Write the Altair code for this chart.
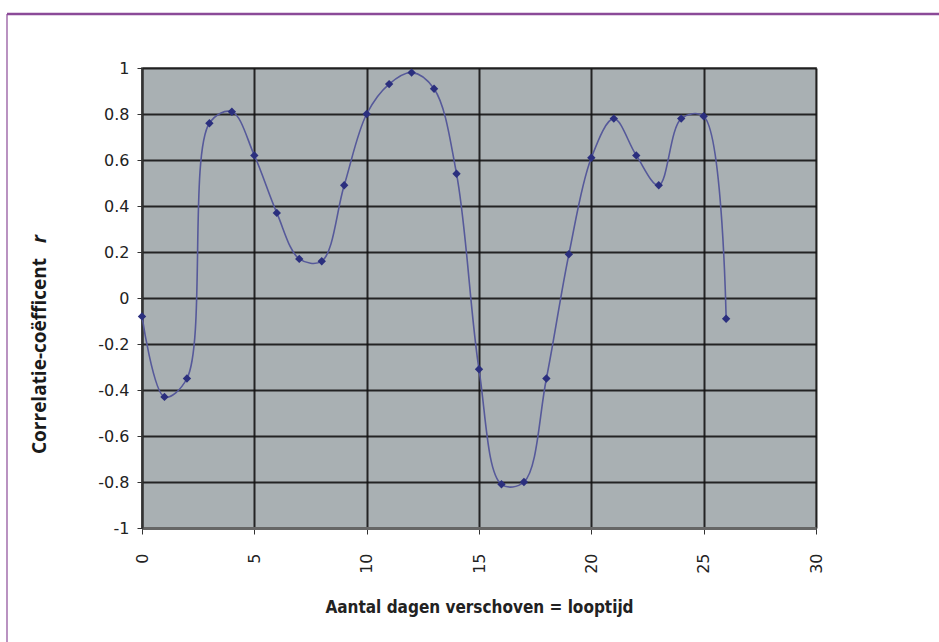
import altair as alt
import pandas as pd

# Days shifted (lag) and the correlation coefficient found at each lag
dagen = list(range(0, 27))
r_waarden = [-0.08, -0.43, -0.35, 0.76, 0.81, 0.62, 0.37, 0.17, 0.16, 0.49,
             0.80, 0.93, 0.98, 0.91, 0.54, -0.31, -0.81, -0.80, -0.35, 0.19,
             0.61, 0.78, 0.62, 0.49, 0.78, 0.79, -0.09]

x_ticks = [0, 5, 10, 15, 20, 25, 30]
y_ticks = [-1, -0.8, -0.6, -0.4, -0.2, 0, 0.2, 0.4, 0.6, 0.8, 1]

x_title = "Aantal dagen verschoven = looptijd"
y_title_main = "Correlatie-coëfficent"
y_title_var = "r"

df = pd.DataFrame({"dag": dagen, "r": r_waarden})

W, H = 674, 460
tick_font = "DejaVu Sans"
title_font = "DejaVu Sans Condensed"
frame_color = "#8b4a98"

x_enc = alt.X(
    "dag:Q",
    scale=alt.Scale(domain=[0, 30], nice=False, zero=False),
    axis=alt.Axis(
        values=x_ticks, title=x_title, grid=True,
        labelAngle=270, labelAlign="right", labelBaseline="middle",
        labelPadding=19, labelFont=tick_font, labelFontSize=16,
        labelColor="#222222", tickSize=6, tickColor="#333333",
        domainColor="#666666", domainWidth=3,
        titleFont=title_font, titleFontSize=17, titleFontWeight="bold",
        titleColor="#222222", titlePadding=26,
    ),
)
y_enc = alt.Y(
    "r:Q",
    scale=alt.Scale(domain=[-1, 1], nice=False, zero=False),
    axis=alt.Axis(
        values=y_ticks, title=None, grid=True,
        labelExpr="'' + round(datum.value * 10) / 10",
        labelPadding=8, labelFont=tick_font, labelFontSize=16,
        labelColor="#222222", tickSize=5, tickColor="#333333",
        domainColor="#333333", domainWidth=2,
    ),
)

line = alt.Chart(df).mark_line(
    interpolate="catmull-rom", color="#56599a", strokeWidth=1.6
).encode(x=x_enc, y=y_enc)

points = alt.Chart(df).mark_point(
    shape="diamond", filled=True, size=70, color="#2b2f7e", opacity=1
).encode(x="dag:Q", y="r:Q")

title_df = pd.DataFrame({"t": [0]})
y_title_a = alt.Chart(title_df).mark_text(
    text=y_title_main, angle=270, align="left", baseline="middle",
    font="Open Sans", fontSize=19, fontWeight="bold", color="#1a1a1a"
).encode(x=alt.value(-102), y=alt.value(386))
y_title_b = alt.Chart(title_df).mark_text(
    text=y_title_var, angle=270, align="center", baseline="middle",
    font="Open Sans", fontSize=19, fontWeight="bold", fontStyle="italic",
    color="#1a1a1a"
).encode(x=alt.value(-102), y=alt.value(171))

# Page frame: top rule and left rule around the figure
frame_top = alt.Chart(title_df).mark_rule(
    color=frame_color, strokeWidth=2.5
).encode(x=alt.value(-135), x2=alt.value(830), y=alt.value(-54))
frame_left = alt.Chart(title_df).mark_rule(
    color=frame_color, strokeWidth=1.2
).encode(x=alt.value(-135), y=alt.value(-54), y2=alt.value(600))

chart = alt.layer(
    line, points, y_title_a, y_title_b, frame_top, frame_left
).properties(
    width=W, height=H,
    autosize=alt.AutoSizeParams(type="none"),
    padding={"left": 142, "top": 68, "right": 123, "bottom": 114},
    background="white",
).configure_view(
    fill="#a9b0b3", stroke="#8a8a8a", strokeWidth=2
).configure_axis(
    gridColor="#141414", gridWidth=2, gridOpacity=0.9
)

chart.save("out.html", embed_options={"renderer": "svg", "actions": False})
